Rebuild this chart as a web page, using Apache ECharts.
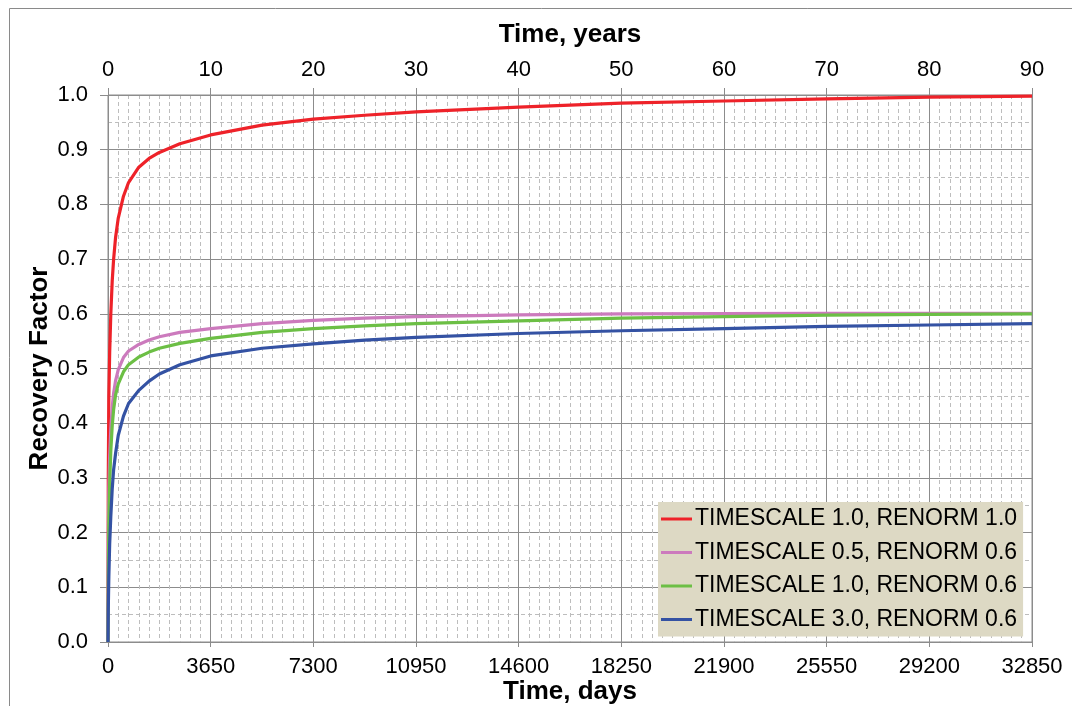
<!DOCTYPE html>
<html>
<head>
<meta charset="utf-8">
<script src="https://cdn.jsdelivr.net/npm/echarts@6/dist/echarts.min.js"></script>
<style>
  html, body { margin: 0; padding: 0; background: #ffffff; }
  #chart { width: 1072px; height: 706px; }
</style>
</head>
<body>
<div id="chart"></div>
<script>
// Recovery factor versus time, in days, for four TIMESCALE / RENORM settings.
const seriesNames = [
  'TIMESCALE 1.0, RENORM 1.0',
  'TIMESCALE 0.5, RENORM 0.6',
  'TIMESCALE 1.0, RENORM 0.6',
  'TIMESCALE 3.0, RENORM 0.6'
];
const seriesColors = ['#ee2229', '#cc7abd', '#6cbf45', '#3452a3'];

// [day, recovery factor]
const redTs1Rn1 = [
  [0, 0], [10, 0.30], [30, 0.45], [60, 0.53], [100, 0.60], [150, 0.66],
  [200, 0.70], [270, 0.74], [365, 0.775], [550, 0.815], [730, 0.84],
  [1095, 0.868], [1460, 0.884], [1825, 0.895], [2555, 0.911], [3650, 0.927],
  [5475, 0.945], [7300, 0.956], [9125, 0.963], [10950, 0.969], [14600, 0.978],
  [18250, 0.985], [21900, 0.989], [25550, 0.993], [29200, 0.996], [32850, 0.998]
];
const pinkTs05Rn06 = [
  [0, 0], [10, 0.18], [30, 0.28], [60, 0.34], [100, 0.39], [150, 0.43],
  [200, 0.455], [270, 0.478], [365, 0.498], [550, 0.52], [730, 0.532],
  [1095, 0.544], [1460, 0.552], [1825, 0.558], [2555, 0.566], [3650, 0.573],
  [5475, 0.582], [7300, 0.588], [9125, 0.592], [10950, 0.595], [14600, 0.598],
  [18250, 0.600], [21900, 0.6005], [25550, 0.601], [29200, 0.601], [32850, 0.601]
];
const greenTs1Rn06 = [
  [0, 0], [10, 0.12], [30, 0.22], [60, 0.29], [100, 0.35], [150, 0.395],
  [200, 0.425], [270, 0.452], [365, 0.472], [550, 0.494], [730, 0.507],
  [1095, 0.521], [1460, 0.530], [1825, 0.537], [2555, 0.546], [3650, 0.555],
  [5475, 0.566], [7300, 0.573], [9125, 0.578], [10950, 0.582], [14600, 0.587],
  [18250, 0.592], [21900, 0.595], [25550, 0.5975], [29200, 0.599], [32850, 0.600]
];
const blueTs3Rn06 = [
  [0, 0], [10, 0.06], [30, 0.12], [60, 0.18], [100, 0.23], [150, 0.28],
  [200, 0.315], [270, 0.345], [365, 0.378], [550, 0.413], [730, 0.436],
  [1095, 0.46], [1460, 0.477], [1825, 0.49], [2555, 0.507], [3650, 0.523],
  [5475, 0.537], [7300, 0.545], [9125, 0.552], [10950, 0.557], [14600, 0.564],
  [18250, 0.569], [21900, 0.573], [25550, 0.577], [29200, 0.5795], [32850, 0.582]
];
const seriesData = [redTs1Rn1, pinkTs05Rn06, greenTs1Rn06, blueTs3Rn06];

const dayAxis = { min: 0, max: 32850, interval: 3650 };
const yearAxis = { min: 0, max: 90, interval: 10 };
const rfAxis = { min: 0, max: 1, interval: 0.1 };

const FONT = 'Liberation Sans, Arial, sans-serif';
const GRID_MAJOR = '#8c8c8c';
const GRID_MINOR = '#bdbdbd';
const titleStyle = { fontFamily: FONT, fontSize: 26, fontWeight: 'bold', color: '#000000' };

const chart = echarts.init(document.getElementById('chart'), null, { renderer: 'canvas' });

chart.setOption({
  backgroundColor: '#ffffff',
  animation: false,
  textStyle: { fontFamily: FONT },
  graphic: [{
    type: 'rect',
    silent: true,
    shape: { x: 9.5, y: 8.5, width: 1100, height: 800 },
    style: { fill: 'none', stroke: '#8a8a8a', lineWidth: 1 },
    z: -10
  }],
  grid: {
    left: 108, right: 40, top: 95, bottom: 64,
    containLabel: false,
    outerBoundsMode: 'none',
    show: true, borderColor: GRID_MAJOR, borderWidth: 1, backgroundColor: 'transparent'
  },
  legend: {
    orient: 'vertical',
    left: 658, top: 502,
    backgroundColor: '#ddd9c4',
    borderWidth: 0,
    padding: [5, 6, 5, 3],
    itemWidth: 31, itemHeight: 3, itemGap: 9.5,
    itemStyle: { borderWidth: 0 },
    icon: 'rect',
    textStyle: { fontFamily: FONT, fontSize: 23, color: '#000000', lineHeight: 24, padding: [0, 0, 0, -2] },
    data: seriesNames
  },
  xAxis: [{
    type: 'value',
    position: 'bottom',
    min: dayAxis.min, max: dayAxis.max, interval: dayAxis.interval,
    name: 'Time, days', nameLocation: 'middle', nameGap: 37, nameMoveOverlap: false,
    nameTextStyle: titleStyle,
    axisLine: { show: true, lineStyle: { color: GRID_MAJOR, width: 1 } },
    axisTick: { show: true, length: 5, lineStyle: { color: GRID_MAJOR } },
    axisLabel: { fontFamily: FONT, fontSize: 22, color: '#000000', margin: 14, formatter: v => String(v) },
    splitLine: { show: true, lineStyle: { color: GRID_MAJOR, width: 1 } },
    minorTick: { show: false, splitNumber: 10 },
    minorSplitLine: { show: true, lineStyle: { color: GRID_MINOR, width: 1, type: [4, 3] } }
  }, {
    type: 'value',
    position: 'top',
    min: yearAxis.min, max: yearAxis.max, interval: yearAxis.interval,
    name: 'Time, years', nameLocation: 'middle', nameGap: 47, nameMoveOverlap: false,
    nameTextStyle: titleStyle,
    axisLine: { show: true, lineStyle: { color: GRID_MAJOR, width: 1 } },
    axisTick: { show: true, length: 7, lineStyle: { color: GRID_MAJOR } },
    axisLabel: { fontFamily: FONT, fontSize: 22, color: '#000000', margin: 14, formatter: v => String(v) },
    splitLine: { show: false }
  }],
  yAxis: {
    type: 'value',
    min: rfAxis.min, max: rfAxis.max, interval: rfAxis.interval,
    name: 'Recovery Factor', nameLocation: 'middle', nameGap: 55, nameMoveOverlap: false,
    nameTextStyle: titleStyle,
    axisLine: { show: true, lineStyle: { color: GRID_MAJOR, width: 1 } },
    axisTick: { show: true, length: 8, lineStyle: { color: GRID_MAJOR } },
    axisLabel: {
      fontFamily: FONT, fontSize: 22, color: '#000000', margin: 20,
      formatter: v => v.toFixed(1)
    },
    splitLine: { show: true, lineStyle: { color: GRID_MAJOR, width: 1 } },
    minorTick: { show: false, splitNumber: 2 },
    minorSplitLine: { show: true, lineStyle: { color: GRID_MINOR, width: 1, type: [4, 3] } }
  },
  series: seriesNames.map((name, i) => ({
    name,
    type: 'line',
    xAxisIndex: 0,
    yAxisIndex: 0,
    data: seriesData[i],
    showSymbol: false,
    symbol: 'none',
    smooth: false,
    color: seriesColors[i],
    lineStyle: { color: seriesColors[i], width: 3.2, join: 'round' },
    z: 3 + i
  }))
});
</script>
</body>
</html>
